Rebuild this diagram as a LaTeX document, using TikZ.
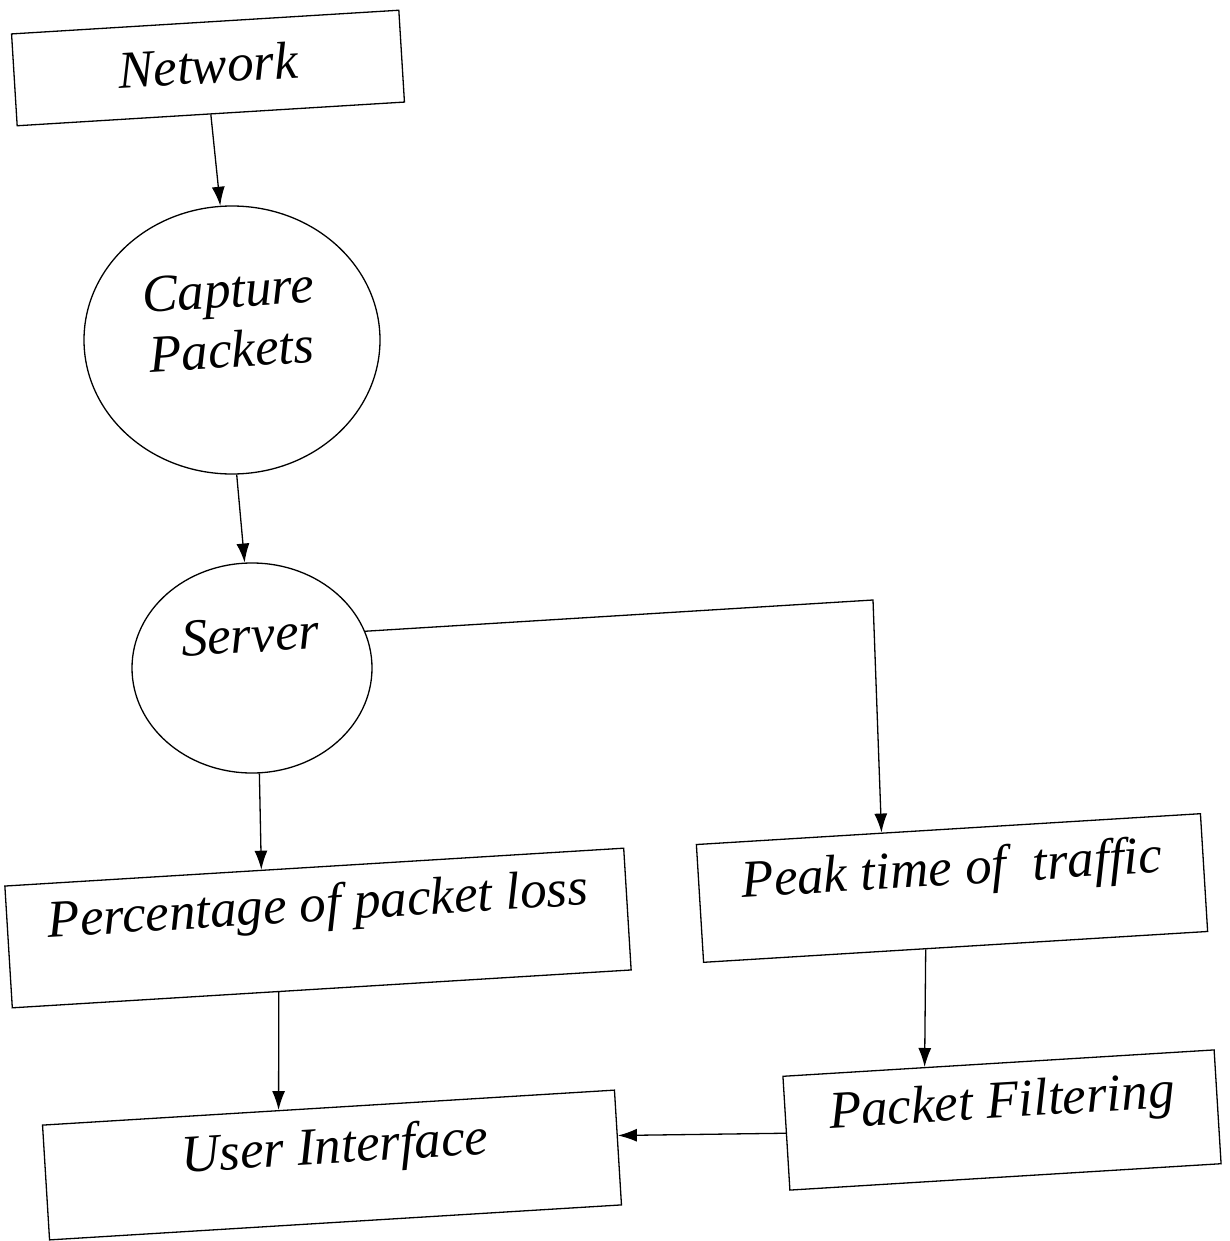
\documentclass[tikz,border=0pt]{standalone}
\usepackage{fontspec}
\setmainfont{Liberation Serif}
\usetikzlibrary{shapes.geometric,arrows.meta,calc}
\begin{document}
\begin{tikzpicture}[x=1pt,y=-1pt,
  box/.style={draw,line width=1.3pt,inner sep=0pt,rotate=3.5},
  ell/.style={draw,ellipse,line width=1.3pt,inner sep=0pt},
  lbl/.style={font=\fontsize{53}{60}\selectfont\itshape,align=center,rotate=3.5,inner sep=0pt},
  arr/.style={-{Latex[length=19pt,width=13pt]},line width=1.3pt}]
\useasboundingbox (0,0) rectangle (1230,1241);
% shapes
\node[box,minimum width=388pt,minimum height=92pt] (net) at (208,68) {};
\node[ell,minimum width=296pt,minimum height=268pt] (cap) at (232,340) {};
\node[ell,minimum width=240pt,minimum height=210pt] (srv) at (252,668) {};
\node[box,minimum width=620pt,minimum height=122pt] (perc) at (318,928) {};
\node[box,minimum width=505pt,minimum height=118pt] (peak) at (952,888) {};
\node[box,minimum width=573pt,minimum height=115pt] (ui) at (332,1165) {};
\node[box,minimum width=432pt,minimum height=114pt] (pf) at (1002,1120) {};
% labels
\node[lbl] (nett) at (208,65) {Network};
\node[lbl] (capt) at (230,320) {Capture\\Packets};
\node[lbl] (srvt) at (250,635) {Server};
\node[lbl] (perct) at (318,908) {Percentage of packet loss};
\node[lbl] (peakt) at (952,872) {Peak time of \ traffic};
\node[lbl] (uit) at (335,1150) {User Interface};
\node[lbl] (pft) at (1002,1105) {Packet Filtering};
% connectors
\coordinate (corner) at (873,600);
\draw[arr] (net.south) -- (cap.95);
\draw[arr] (cap.-88) -- (srv.94);
\draw[arr] (srv.-86) -- ($(perc.north)!53pt!(perc.north west)$);
\draw[arr] (srv.18) -- (corner) -- ($(peak.north)!67pt!(peak.north west)$);
\draw[arr] ($(perc.south)!43pt!(perc.south west)$) -- ($(ui.north)!50pt!(ui.north west)$);
\draw[arr] ($(peak.south)!30pt!(peak.south west)$) -- ($(pf.north)!74pt!(pf.north west)$);
\draw[arr] (pf.west) -- ($(ui.east)!12pt!(ui.north east)$);
\end{tikzpicture}
\end{document}
